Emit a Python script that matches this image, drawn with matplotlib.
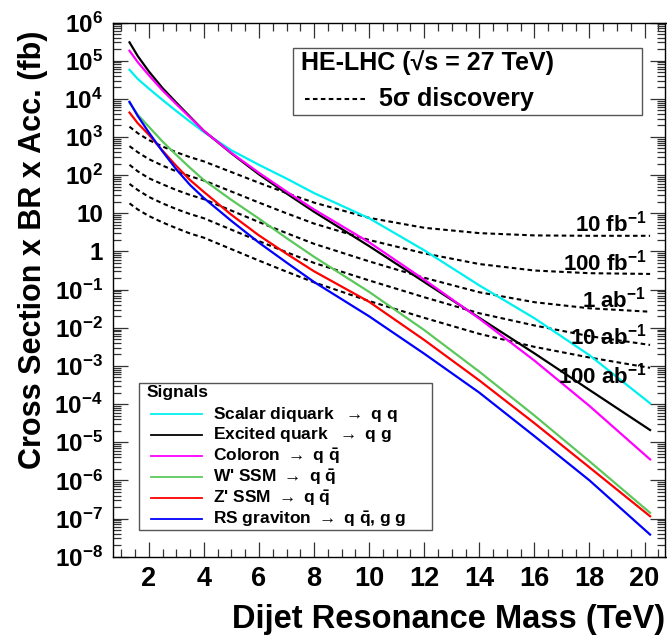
import matplotlib
matplotlib.use("Agg")
import matplotlib.pyplot as plt
from matplotlib.ticker import MultipleLocator, LogLocator, FuncFormatter, NullFormatter
from matplotlib.patches import Rectangle
from matplotlib.lines import Line2D
import numpy as np

plt.rcParams["font.family"] = ["Liberation Sans", "DejaVu Sans"]
plt.rcParams["font.weight"] = "bold"
plt.rcParams["mathtext.fontset"] = "custom"
plt.rcParams["mathtext.rm"] = "Liberation Sans:bold"
plt.rcParams["mathtext.bf"] = "Liberation Sans:bold"
plt.rcParams["mathtext.it"] = "Liberation Sans:bold"
plt.rcParams["mathtext.default"] = "bf"

# dijet resonance mass (TeV)
mass = [1.3, 1.6, 2, 2.5, 3, 3.5, 4, 5, 6, 7, 8, 10, 12, 14, 16, 18, 20.2]

# log10 of cross section x BR x acceptance (fb)
scalar_diquark = [4.76, 4.52, 4.27, 3.97, 3.68, 3.40, 3.13, 2.65, 2.27, 1.91, 1.53, 0.87, 0.03, -0.89, -1.75, -2.72, -3.98]
excited_quark = [5.48, 5.12, 4.72, 4.28, 3.90, 3.53, 3.16, 2.57, 2.02, 1.52, 1.04, 0.14, -0.80, -1.74, -2.67, -3.63, -4.68]
coloron = [5.26, 4.96, 4.62, 4.22, 3.86, 3.51, 3.16, 2.58, 2.06, 1.57, 1.10, 0.24, -0.74, -1.76, -2.86, -4.05, -5.45]
wprime = [3.90, 3.58, 3.27, 2.88, 2.53, 2.19, 1.87, 1.35, 0.86, 0.35, -0.14, -1.06, -2.06, -3.15, -4.30, -5.50, -6.85]
zprime = [3.64, 3.36, 3.06, 2.64, 2.24, 1.87, 1.56, 0.96, 0.42, -0.06, -0.52, -1.32, -2.32, -3.38, -4.50, -5.66, -6.94]
rs_graviton = [3.92, 3.55, 3.12, 2.62, 2.15, 1.74, 1.40, 0.80, 0.23, -0.29, -0.80, -1.70, -2.68, -3.70, -4.84, -6.00, -7.42]

# 5 sigma discovery reach, log10 (fb)
disc_10fb = [3.27, 3.10, 2.92, 2.75, 2.60, 2.47, 2.36, 2.08, 1.80, 1.53, 1.28, 0.88, 0.62, 0.48, 0.42, 0.41, 0.41]
disc_100fb = [2.76, 2.60, 2.42, 2.25, 2.10, 1.97, 1.86, 1.57, 1.28, 1.00, 0.73, 0.30, -0.05, -0.33, -0.50, -0.57, -0.59]
disc_1ab = [2.27, 2.10, 1.92, 1.76, 1.61, 1.48, 1.37, 1.07, 0.77, 0.48, 0.20, -0.26, -0.69, -1.07, -1.33, -1.49, -1.58]
disc_10ab = [1.77, 1.61, 1.43, 1.26, 1.11, 0.98, 0.87, 0.57, 0.27, -0.02, -0.30, -0.76, -1.20, -1.62, -1.94, -2.22, -2.45]
disc_100ab = [1.26, 1.10, 0.93, 0.76, 0.61, 0.47, 0.36, 0.06, -0.24, -0.53, -0.81, -1.30, -1.74, -2.16, -2.50, -2.78, -3.05]

signals = [
    (scalar_diquark, "#00f0f0", "Scalar diquark  $\\rightarrow$ q q"),
    (excited_quark, "black", "Excited quark  $\\rightarrow$ q g"),
    (coloron, "#ff00ff", "Coloron $\\rightarrow$ q $\\bar{q}$"),
    (wprime, "#5cc85c", "W' SSM $\\rightarrow$ q $\\bar{q}$"),
    (zprime, "#ff0000", "Z' SSM $\\rightarrow$ q $\\bar{q}$"),
    (rs_graviton, "#0000ff", "RS graviton $\\rightarrow$ q $\\bar{q}$, g g"),
]
reach = [disc_10fb, disc_100fb, disc_1ab, disc_10ab, disc_100ab]
reach_labels = ["10 fb$^{-1}$", "100 fb$^{-1}$", "1 ab$^{-1}$", "10 ab$^{-1}$", "100 ab$^{-1}$"]
reach_label_y = [0.516, -0.49, -1.475, -2.45, -3.46]

W, H = 667, 639
fig = plt.figure(figsize=(W / 100, H / 100), dpi=100)
ax = fig.add_axes([112.7 / W, 1 - 556.7 / H, (665.5 - 112.7) / W, (556.7 - 22.5) / H])


def px(x, y):
    return x / W, 1 - y / H


m = np.array(mass)
dash = (0, (2.2, 1.6))
for vals in reach:
    ax.plot(m, 10 ** np.array(vals), color="black", lw=1.5, ls=dash)
for vals, col, lab in signals:
    ax.plot(m, 10 ** np.array(vals), color=col, lw=1.6)

for lab, yl in zip(reach_labels, reach_label_y):
    ax.text(20.07, 10 ** yl, lab, ha="right", va="baseline", fontsize=16, fontweight="bold")

ax.set_yscale("log")
ax.set_xlim(0.69, 20.76)
ax.set_ylim(1e-8, 1e6)
ax.xaxis.set_major_locator(MultipleLocator(2))
ax.xaxis.set_minor_locator(MultipleLocator(0.5))
ax.yaxis.set_major_locator(LogLocator(base=10, numticks=20))
ax.yaxis.set_minor_locator(LogLocator(base=10, subs=np.arange(2, 10), numticks=20))
ax.yaxis.set_minor_formatter(NullFormatter())


def ylab(v, pos):
    e = int(round(np.log10(v)))
    if e == 0:
        return "1"
    if e == 1:
        return "10"
    return r"$10^{%d}$" % e


ax.yaxis.set_major_formatter(FuncFormatter(ylab))
ax.tick_params(which="both", direction="in", top=True, right=True, width=0.9, color="#333333")
ax.tick_params(which="major", length=11, pad=7)
ax.tick_params(axis="y", which="major", labelsize=17.5)
ax.tick_params(axis="x", which="major", labelsize=19.5)
ax.tick_params(which="minor", length=5.5)
for lbl in ax.get_xticklabels() + ax.get_yticklabels():
    lbl.set_fontweight("bold")
for s in ax.spines.values():
    s.set_linewidth(1.0)

fig.text(*px(665, 628), "Dijet Resonance Mass (TeV)", ha="right", va="baseline", fontsize=23.5, fontweight="bold")
fig.text(*px(33, 31), "Cross Section x BR x Acc. (fb)", ha="center", va="top", rotation=90, fontsize=22, fontweight="bold")

# HE-LHC box
x0, y0 = px(293, 115)
x1, y1 = px(642, 48)
fig.patches.append(Rectangle((x0, y0), x1 - x0, y1 - y0, transform=fig.transFigure, fill=True,
                             facecolor="white", edgecolor="#555555", lw=1.0, zorder=5))
fig.text(*px(301, 63), "HE-LHC (\u221as = 27 TeV)", ha="left", va="center", fontsize=18, fontweight="bold", zorder=6)
fig.lines.append(Line2D([305 / W, 367 / W], [1 - 99 / H, 1 - 99 / H], transform=fig.transFigure,
                        color="black", lw=1.5, ls=dash, zorder=6))
fig.text(*px(379, 99), "5\u03c3 discovery", ha="left", va="center", fontsize=18, fontweight="bold", zorder=6)

# Signals box
x0, y0 = px(139, 530)
x1, y1 = px(432, 383)
fig.patches.append(Rectangle((x0, y0), x1 - x0, y1 - y0, transform=fig.transFigure, fill=True,
                             facecolor="white", edgecolor="#555555", lw=1.0, zorder=5))
fig.text(*px(147, 392), "Signals", ha="left", va="center", fontsize=12.5, fontweight="bold", zorder=6)
entry_y = [414, 435, 456, 477, 498, 519]
for (vals, col, lab), ey in zip(signals, entry_y):
    fig.lines.append(Line2D([151 / W, 202 / W], [1 - ey / H, 1 - ey / H], transform=fig.transFigure,
                            color=col, lw=1.3, zorder=6))
    fig.text(*px(213, ey), lab, ha="left", va="center", fontsize=12.5, fontweight="bold", zorder=6)

fig.savefig("out.png", dpi=100)
